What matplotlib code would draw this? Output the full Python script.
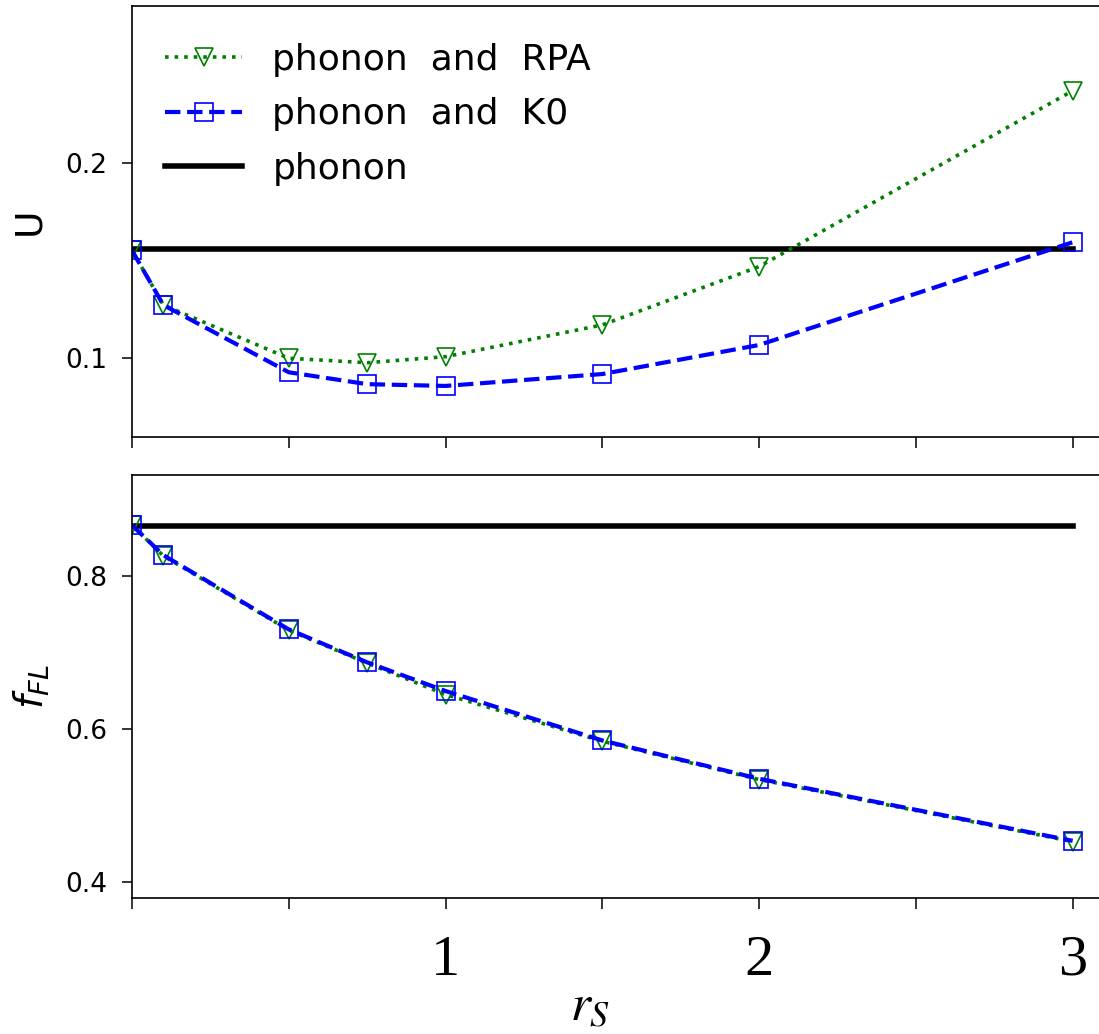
import matplotlib
matplotlib.use("Agg")
import matplotlib.pyplot as plt
import numpy as np

# r_s grid and results
rs = [0.0, 0.1, 0.5, 0.75, 1.0, 1.5, 2.0, 3.0]

U_rpa = [0.155, 0.127, 0.0997, 0.0974, 0.1005, 0.1168, 0.1467, 0.2369]
U_ko = [0.155, 0.127, 0.0925, 0.0864, 0.0855, 0.0916, 0.1065, 0.1592]
U_phonon = 0.1556

f_rpa = [0.866, 0.826, 0.729, 0.686, 0.645, 0.584, 0.534, 0.453]
f_ko = [0.866, 0.827, 0.730, 0.687, 0.6496, 0.585, 0.535, 0.454]
f_phonon = 0.865

xticks = [0, 0.5, 1, 1.5, 2, 2.5, 3]
xticklabels = ["", "", "1", "", "2", "", "3"]

W, H = 1099, 1034
fig = plt.figure(figsize=(W / 100, H / 100), dpi=100)

left = 132 / W
width = (1104 - 132) / W
ax1 = fig.add_axes([left, 1 - 437 / H, width, (437 - 6) / H])
ax2 = fig.add_axes([left, 1 - 897.5 / H, width, (897.5 - 474.7) / H], sharex=ax1)

rpa_kw = dict(color="green", ls=":", lw=2.6, marker="v", ms=12.5,
              mfc="none", mec="green", mew=1.2)
ko_kw = dict(color="blue", ls="--", lw=3.0, marker="s", ms=12.5,
             mfc="none", mec="blue", mew=1.2)
ph_kw = dict(color="black", ls="-", lw=4.0)

# top panel: U
l_ph, = ax1.plot([rs[0], rs[-1]], [U_phonon, U_phonon], label="phonon", **ph_kw)
l_rpa, = ax1.plot(rs, U_rpa, label="phonon  and  RPA", **rpa_kw)
l_ko, = ax1.plot(rs, U_ko, label="phonon  and  K0", **ko_kw)
ax1.set_ylim(0.0593, 0.2804)
ax1.set_yticks([0.1, 0.2])
ax1.set_ylabel("U", fontsize=27)
ax1.yaxis.set_label_coords(-0.0875, 0.5)
ax1.legend(handles=[l_rpa, l_ko, l_ph], loc="upper left",
           bbox_to_anchor=(0.034, 0.914), frameon=False, fontsize=26,
           borderpad=0, borderaxespad=0, handlelength=2.14,
           handletextpad=0.83, labelspacing=0.56)

# bottom panel: f_FL
ax2.plot([rs[0], rs[-1]], [f_phonon, f_phonon], **ph_kw)
ax2.plot(rs, f_rpa, **rpa_kw)
ax2.plot(rs, f_ko, **ko_kw)
ax2.set_ylim(0.380, 0.932)
ax2.set_yticks([0.4, 0.6, 0.8])
ax2.set_ylabel("$f_{FL}$", fontsize=28)
ax2.yaxis.set_label_coords(-0.082, 0.5)

ax1.set_xlim(0, 3.1)
ax2.set_xticks(xticks)
ax2.set_xticklabels(xticklabels, fontfamily="Liberation Serif", fontsize=42)
plt.setp(ax1.get_xticklabels(), visible=False)
ax2.set_xlabel("$r_S$", fontsize=37, math_fontfamily="stix")
ax2.xaxis.set_label_coords(0.471, -0.20)

for ax in (ax1, ax2):
    ax.tick_params(axis="y", labelsize=19, length=7.2, width=1.1, pad=10.6)
    ax.tick_params(axis="x", length=7.9, width=1.1, pad=19)
    for sp in ax.spines.values():
        sp.set_linewidth(1.2)

fig.savefig("out.png", dpi=100)
